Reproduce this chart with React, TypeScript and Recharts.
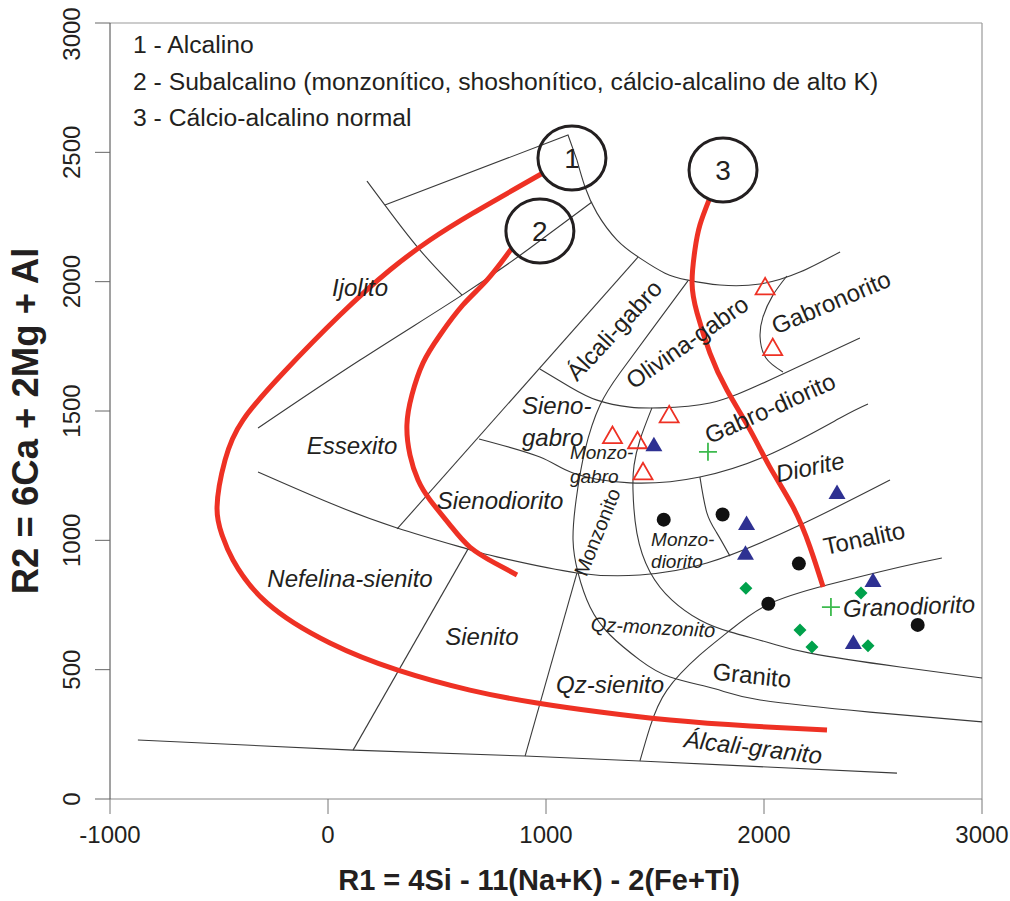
import React from 'react'
import { ReferenceLine, Scatter, ScatterChart, XAxis, YAxis } from 'recharts'

const FONT = '"Liberation Sans", Arial, Helvetica, sans-serif'
const INK = '#231f20'
const FIELD = '#3a3a3a'
const RED = '#ee3124'
const NAVY = '#2e3192'
const GREEN = '#00a14b'
const LIGHT_GREEN = '#3dba4e'

const R1_TICKS = [-1000, 0, 1000, 2000, 3000]
const R2_TICKS = [0, 500, 1000, 1500, 2000, 2500, 3000]

const LEGEND_LINES = [
  '1 - Alcalino',
  '2 - Subalcalino (monzonítico, shoshonítico, cálcio-alcalino de alto K)',
  '3 - Cálcio-alcalino normal',
]

// field boundaries, vertices as [R1, R2]
const BASE_LINE = [[-872, 228], [115, 189], [904, 166], [1431, 147], [2610, 100]]
const SIENITO_W = [[115, 189], [642, 966]]
const QZ_SIENITO_W = [[904, 166], [1142, 874]]
const NEFELINA_N = [[-321, 1264], [9, 1144], [317, 1048], [642, 966], [775, 936], [1142, 874], [1431, 866], [1738, 912], [2165, 1059], [2578, 1233]]
const IJOLITO_S = [[-321, 1434], [147, 1697], [615, 1948], [927, 2130], [1211, 2308]]
const IJOLITO_E = [[179, 2389], [261, 2296], [422, 2122], [615, 1948]]
const TOP_EDGE = [[261, 2296], [1101, 2567], [1142, 2470]]
const GABBRO_ARC = [[1142, 2470], [1179, 2366], [1234, 2265], [1326, 2161], [1431, 2091], [1546, 2033], [1651, 2006], [1798, 1987], [1982, 1991], [2165, 2037], [2349, 2115]]
const ESSEXITO_E = [[1422, 2095], [317, 1044]]
const MONZONITO_W = [[1651, 2003], [1477, 1805], [1339, 1647], [1248, 1523], [1179, 1349], [1138, 1156], [1124, 1001], [1147, 874], [1202, 742], [1294, 634], [1431, 537], [1569, 472], [1775, 426], [1982, 383], [2486, 336], [3000, 298]]
const SIENODIORITO_N = [[693, 1392], [972, 1322], [1124, 1260], [1385, 1222], [1706, 1245], [2041, 1338], [2349, 1473], [2477, 1527]]
const SIENOGABRO_N = [[972, 1662], [1110, 1593], [1234, 1542], [1385, 1515], [1523, 1512], [1752, 1531], [2027, 1620], [2440, 1782]]
const GABRONORITO_W = [[2105, 2022], [2041, 1948], [1995, 1863], [1982, 1786], [2009, 1705], [2087, 1651]]
const MONZOGABRO_E = [[1486, 1512], [1431, 1388], [1404, 1291], [1399, 1195], [1417, 1028], [1477, 878], [1578, 769], [1706, 692], [1844, 646], [2027, 603], [2211, 564], [2624, 510], [3000, 468]]
const MONZODIORITO_E = [[1706, 1245], [1738, 1106], [1784, 1028], [1844, 939]]
const GRANITO_W = [[1431, 147], [1477, 278], [1555, 421], [1706, 557], [1835, 646], [2014, 750], [2289, 827], [2624, 897], [2816, 932]]

// magmatic series trends
const SERIES_1 = [[986, 2420], [665, 2265], [468, 2161], [284, 2045], [55, 1871], [-206, 1647], [-390, 1465], [-472, 1311], [-509, 1129], [-486, 1021], [-436, 924], [-280, 758], [9, 603], [317, 499], [651, 421], [959, 371], [1248, 336], [1569, 305], [1936, 282], [2289, 267]]
const SERIES_2 = [[844, 2130], [729, 2006], [619, 1910], [514, 1794], [436, 1686], [385, 1562], [362, 1446], [376, 1330], [413, 1233], [468, 1156], [560, 1059], [651, 974], [766, 912], [867, 866]]
const SERIES_3 = [[1748, 2316], [1706, 2219], [1683, 2122], [1670, 1995], [1693, 1879], [1752, 1724], [1830, 1581], [1936, 1427], [2027, 1283], [2133, 1129], [2211, 974], [2271, 820]]

const CIRCLE_NUM = ['1', '2', '3']
const CIRCLE_R1 = [1119, 972, 1812]
const CIRCLE_R2 = [2478, 2196, 2432]

// samples
const OPEN_TRI_R1 = [2005, 2040, 1565, 1305, 1420, 1445]
const OPEN_TRI_R2 = [1980, 1745, 1485, 1405, 1385, 1265]
const BLUE_TRI_R1 = [1495, 1920, 1915, 2335, 2500, 2410]
const BLUE_TRI_R2 = [1370, 1065, 950, 1185, 845, 605]
const DOT_R1 = [1540, 1810, 2160, 2020, 2705]
const DOT_R2 = [1080, 1100, 910, 755, 673]
const DIAMOND_R1 = [1917, 2165, 2220, 2445, 2477]
const DIAMOND_R2 = [815, 653, 588, 796, 592]
const PLUS_R1 = [1743, 2307]
const PLUS_R2 = [1342, 742]

const REGION_NAMES = [
  'Ijolito', 'Essexito', 'Nefelina-sienito', 'Sienito', 'Sienodiorito', 'Sieno-\ngabro',
  'Monzo-\ngabro', 'Monzonito', 'Monzo-\ndiorito', 'Qz-monzonito', 'Qz-sienito', 'Granito',
  'Álcali-granito', 'Granodiorito', 'Tonalito', 'Diorite', 'Gabro-diorito', 'Gabronorito',
  'Olivina-gabro', 'Álcali-gabro',
]
const REGION_R1 = [147, 110, 101, 706, 789, 890, 1110, 1234, 1482, 1491, 1294, 1945, 1950, 2665, 2459, 2211, 2027, 2307, 1647, 1312]
const REGION_R2 = [1978, 1369, 854, 630, 1156, 1461, 1295, 1032, 963, 665, 445, 479, 201, 746, 1009, 1284, 1512, 1921, 1767, 1813]

const LABEL_STYLE: Record<string, { angle?: number; size?: number; upright?: boolean; anchor?: string; lh?: number }> = {
  'Sieno-\ngabro': { anchor: 'start', lh: 32 },
  'Monzo-\ngabro': { anchor: 'start', lh: 24, size: 19 },
  Monzonito: { angle: -68, size: 20, upright: true },
  'Monzo-\ndiorito': { anchor: 'start', lh: 22, size: 19 },
  'Qz-monzonito': { size: 20, angle: 3 },
  Granito: { angle: 6, upright: true },
  'Álcali-granito': { angle: 7 },
  Granodiorito: { angle: -2 },
  Tonalito: { angle: -12, upright: true },
  Diorite: { angle: -12 },
  'Gabro-diorito': { angle: -24, upright: true },
  Gabronorito: { angle: -23, upright: true },
  'Olivina-gabro': { angle: -35, upright: true },
  'Álcali-gabro': { angle: -47, upright: true },
}

const FIELD_LINES = [
  { key: 'base', pts: BASE_LINE, curve: 'linear' },
  { key: 'sienito', pts: SIENITO_W, curve: 'linear' },
  { key: 'qzsienito', pts: QZ_SIENITO_W, curve: 'linear' },
  { key: 'nefelina', pts: NEFELINA_N, curve: 'natural' },
  { key: 'ijolitoS', pts: IJOLITO_S, curve: 'natural' },
  { key: 'ijolitoE', pts: IJOLITO_E, curve: 'natural' },
  { key: 'top', pts: TOP_EDGE, curve: 'linear' },
  { key: 'arc', pts: GABBRO_ARC, curve: 'natural' },
  { key: 'essexito', pts: ESSEXITO_E, curve: 'linear' },
  { key: 'monzonito', pts: MONZONITO_W, curve: 'natural' },
  { key: 'sienodiorito', pts: SIENODIORITO_N, curve: 'natural' },
  { key: 'sienogabro', pts: SIENOGABRO_N, curve: 'natural' },
  { key: 'gabronorito', pts: GABRONORITO_W, curve: 'natural' },
  { key: 'monzogabro', pts: MONZOGABRO_E, curve: 'natural' },
  { key: 'monzodiorito', pts: MONZODIORITO_E, curve: 'natural' },
  { key: 'granito', pts: GRANITO_W, curve: 'natural' },
]

const toXY = (pts: number[][]) => pts.map(([x, y]) => ({ x, y }))
const zip = (xs: number[], ys: number[]) => xs.map((x, i) => ({ x, y: ys[i] }))

const NoMark = () => <g />

const OpenTriangle = ({ cx, cy }: any) => (
  <polygon points={`${cx},${cy - 9} ${cx - 9.5},${cy + 7.5} ${cx + 9.5},${cy + 7.5}`} fill="none" stroke={RED} strokeWidth={1.8} />
)
const BlueTriangle = ({ cx, cy }: any) => (
  <polygon points={`${cx},${cy - 8} ${cx - 8.5},${cy + 6.5} ${cx + 8.5},${cy + 6.5}`} fill={NAVY} />
)
const Dot = ({ cx, cy }: any) => <circle cx={cx} cy={cy} r={7} fill="#111" />
const Diamond = ({ cx, cy }: any) => (
  <polygon points={`${cx},${cy - 6.5} ${cx + 6.5},${cy} ${cx},${cy + 6.5} ${cx - 6.5},${cy}`} fill={GREEN} />
)
const Plus = ({ cx, cy }: any) => (
  <path d={`M${cx - 9},${cy}H${cx + 9}M${cx},${cy - 9}V${cy + 9}`} stroke={LIGHT_GREEN} strokeWidth={1.8} />
)
const SeriesCircle = ({ cx, cy, payload }: any) => (
  <g>
    <ellipse cx={cx} cy={cy} rx={34} ry={32} fill="none" stroke={INK} strokeWidth={3} />
    <text x={cx} y={cy} dy="0.36em" textAnchor="middle" fontSize={28} fill={INK} fontFamily={FONT}>
      {payload.num}
    </text>
  </g>
)

const RegionLabel = ({ cx, cy, payload }: any) => {
  const s = LABEL_STYLE[payload.name] ?? {}
  const lines = String(payload.name).split('\n')
  const lh = s.lh ?? 0
  return (
    <text
      x={cx}
      y={cy}
      transform={s.angle ? `rotate(${s.angle}, ${cx}, ${cy})` : undefined}
      textAnchor={s.anchor ?? 'middle'}
      fontSize={s.size ?? 24}
      fontStyle={s.upright ? 'normal' : 'italic'}
      fill={INK}
      fontFamily={FONT}
    >
      {lines.map((l, i) => (
        <tspan key={i} x={cx} y={cy + (i - (lines.length - 1) / 2) * lh} dy="0.36em">
          {l}
        </tspan>
      ))}
    </text>
  )
}

const XTick = ({ x, y, payload }: any) => (
  <text x={x} y={y + 25} textAnchor="middle" fontSize={24} fill={INK} fontFamily={FONT}>
    {payload.value}
  </text>
)

const YTick = ({ x, y, payload }: any) => {
  const cy = Math.max(y, 34)
  return (
    <text x={x} y={cy} transform={`rotate(-90, ${x}, ${cy})`} textAnchor="middle" fontSize={24} fill={INK} fontFamily={FONT}>
      {payload.value}
    </text>
  )
}

const XTitle = ({ viewBox }: any) => (
  <text x={viewBox.x + viewBox.width / 2 - 7} y={viewBox.y + 91} textAnchor="middle" fontSize={29} fontWeight="bold" fill={INK} fontFamily={FONT}>
    R1 = 4Si - 11(Na+K) - 2(Fe+Ti)
  </text>
)

const YTitle = ({ viewBox }: any) => {
  const cy = viewBox.y + viewBox.height / 2 + 10
  return (
    <text x={38} y={cy} transform={`rotate(-90, 38, ${cy})`} textAnchor="middle" fontSize={36.5} fontWeight="bold" fill={INK} fontFamily={FONT}>
      R2 = 6Ca + 2Mg + Al
    </text>
  )
}

export default function App() {
  const circles = CIRCLE_NUM.map((num, i) => ({ x: CIRCLE_R1[i], y: CIRCLE_R2[i], num }))
  const regions = REGION_NAMES.map((name, i) => ({ x: REGION_R1[i], y: REGION_R2[i], name }))

  return (
    <div style={{ position: 'absolute', left: 0, top: 0, width: 1010, height: 901, background: '#fff', fontFamily: FONT }}>
      <ScatterChart width={1010} height={901} margin={{ top: 23, right: 28, bottom: 0, left: 0 }}>
        <XAxis
          type="number"
          dataKey="x"
          domain={[-1000, 3000]}
          ticks={R1_TICKS}
          interval={0}
          height={102}
          tickSize={15}
          tickMargin={4}
          axisLine={{ stroke: '#888' }}
          tickLine={{ stroke: '#777' }}
          tick={<XTick />}
          label={XTitle}
        />
        <YAxis
          type="number"
          dataKey="y"
          domain={[0, 3000]}
          ticks={R2_TICKS}
          interval={0}
          width={110}
          tickSize={15}
          tickMargin={15}
          axisLine={{ stroke: '#444' }}
          tickLine={{ stroke: '#666' }}
          tick={<YTick />}
          label={YTitle}
        />
        <ReferenceLine y={3000} stroke="#999" strokeWidth={1.2} />
        <ReferenceLine x={3000} stroke="#999" strokeWidth={1.2} />

        {FIELD_LINES.map((f) => (
          <Scatter
            key={f.key}
            data={toXY(f.pts)}
            line={{ stroke: FIELD, strokeWidth: 1.1 }}
            lineJointType={f.curve as any}
            shape={NoMark}
            isAnimationActive={false}
          />
        ))}

        {[SERIES_1, SERIES_2, SERIES_3].map((s, i) => (
          <Scatter
            key={'series' + i}
            data={toXY(s)}
            line={{ stroke: RED, strokeWidth: 5, strokeLinecap: 'butt' }}
            lineJointType="natural"
            shape={NoMark}
            isAnimationActive={false}
          />
        ))}

        <Scatter data={circles} shape={SeriesCircle} isAnimationActive={false} />
        <Scatter data={regions} shape={RegionLabel} isAnimationActive={false} />

        <Scatter data={zip(OPEN_TRI_R1, OPEN_TRI_R2)} shape={OpenTriangle} isAnimationActive={false} />
        <Scatter data={zip(BLUE_TRI_R1, BLUE_TRI_R2)} shape={BlueTriangle} isAnimationActive={false} />
        <Scatter data={zip(DOT_R1, DOT_R2)} shape={Dot} isAnimationActive={false} />
        <Scatter data={zip(DIAMOND_R1, DIAMOND_R2)} shape={Diamond} isAnimationActive={false} />
        <Scatter data={zip(PLUS_R1, PLUS_R2)} shape={Plus} isAnimationActive={false} />
      </ScatterChart>

      <svg width={1010} height={140} style={{ position: 'absolute', left: 0, top: 0, pointerEvents: 'none' }}>
        {LEGEND_LINES.map((t, i) => (
          <text key={i} x={133} y={53 + i * 36.5} fontSize={24.7} fill={INK} fontFamily={FONT}>
            {t}
          </text>
        ))}
      </svg>
    </div>
  )
}
